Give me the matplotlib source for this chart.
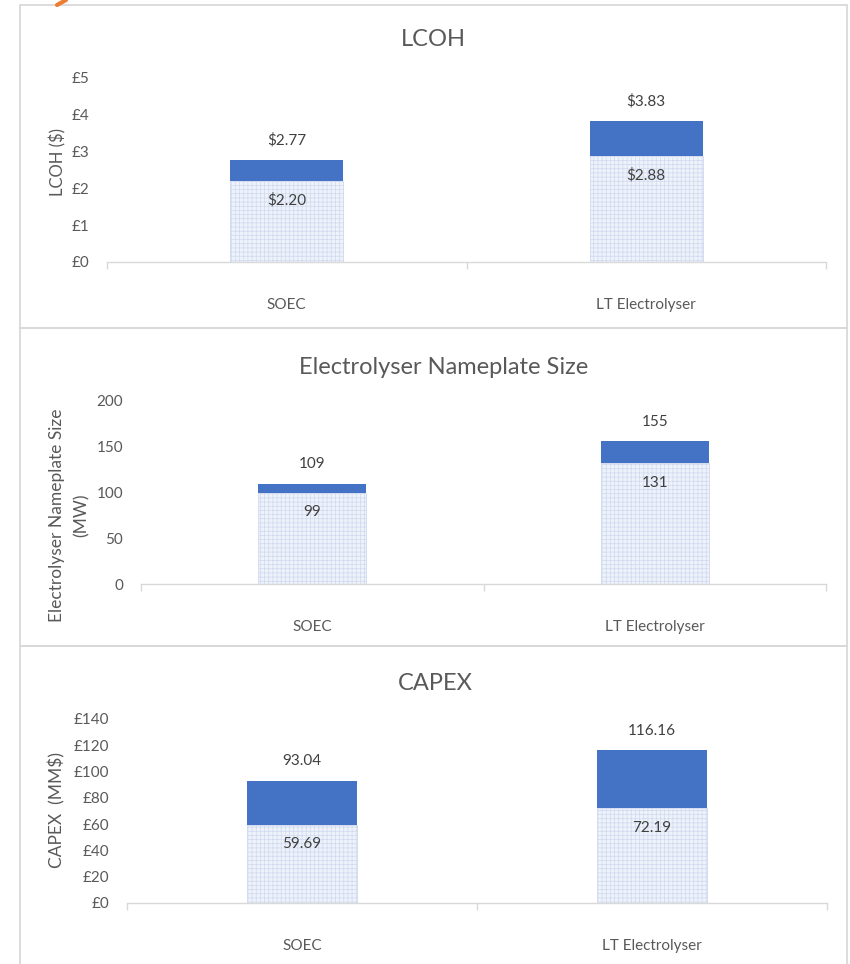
import matplotlib
matplotlib.use("Agg")
import matplotlib.pyplot as plt
from matplotlib.patches import Rectangle
from matplotlib.lines import Line2D

plt.rcParams["font.family"] = ["Lato", "DejaVu Sans"]
plt.rcParams["hatch.linewidth"] = 0.5

W, H = 850, 964

categories = ["SOEC", "LT Electrolyser"]

lcoh_base = [2.20, 2.88]
lcoh_total = [2.77, 3.83]

size_base = [99, 131]
size_total = [109, 155]

capex_base = [59.69, 72.19]
capex_total = [93.04, 116.16]

BLUE = "#4472C4"
PALE = "#EEF2FA"
HATCH = "#CFD9EF"
GRID = "#D9D9D9"
TEXT = "#595959"

fig = plt.figure(figsize=(W / 100, H / 100), dpi=100)


def frac(x0, y0, x1, y1):
    # pixel box (top-left origin) -> figure fraction rect
    return [x0 / W, 1 - y1 / H, (x1 - x0) / W, (y1 - y0) / H]


def ftext(x, y, s, **kw):
    fig.text(x / W, 1 - y / H, s, **kw)


# panel frames
for top, bottom in [(5, 328), (328, 646), (646, 1000)]:
    fig.patches.append(Rectangle((20 / W, 1 - bottom / H), 827 / W, (bottom - top) / H,
                                 transform=fig.transFigure, fill=False,
                                 edgecolor=GRID, linewidth=1.3))
fig.lines.append(Line2D([57 / W, 66 / W], [1 - 5 / H, 1 - 0 / H], transform=fig.transFigure,
                        color="#ED7D31", linewidth=3, solid_capstyle="round"))


def panel(rect, base, total, ymax, step, fmt_tick, fmt_val, title, title_xy):
    ax = fig.add_axes(frac(*rect))
    x = range(len(categories))
    ax.bar(x, base, width=0.315, color=PALE, edgecolor=HATCH, hatch="++++", linewidth=0.6)
    top = [t - b for t, b in zip(total, base)]
    ax.bar(x, top, bottom=base, width=0.315, color=BLUE, linewidth=0)
    for i in x:
        ax.annotate(fmt_val(total[i]), (i, total[i]), xytext=(0, 14), textcoords="offset points",
                    ha="center", va="center", fontsize=11, color="#404040")
        ax.annotate(fmt_val(base[i]), (i, base[i]), xytext=(0, -14), textcoords="offset points",
                    ha="center", va="center", fontsize=11, color="#404040")
    ax.set_xlim(-0.5, 1.5)
    ax.set_ylim(0, ymax)
    yt = [k * step for k in range(int(round(ymax / step)) + 1)]
    ax.set_yticks(yt)
    ax.set_yticklabels([fmt_tick(v) for v in yt])
    ax.set_xticks(list(x))
    ax.set_xticklabels(categories)
    ax.set_xticks([-0.5, 0.5, 1.5], minor=True)
    ax.tick_params(axis="x", which="major", length=0, pad=26, labelsize=11, labelcolor=TEXT)
    ax.tick_params(axis="x", which="minor", length=5, width=1, color=GRID)
    ax.tick_params(axis="y", length=0, pad=13, labelsize=11, labelcolor=TEXT)
    for side in ["top", "right", "left"]:
        ax.spines[side].set_visible(False)
    ax.spines["bottom"].set_color(GRID)
    ax.spines["bottom"].set_linewidth(1)
    ftext(*title_xy, title, ha="center", va="center", fontsize=17, color=TEXT)
    return ax


panel((107, 78, 826, 262), lcoh_base, lcoh_total, 5, 1,
      lambda v: f"£{v:g}", lambda v: f"${v:.2f}", "LCOH", (433, 40))
ftext(58, 162, "LCOH ($)", rotation=90, ha="center", va="center", fontsize=12, color=TEXT)

panel((141, 400, 826, 584), size_base, size_total, 200, 50,
      lambda v: f"{v:g}", lambda v: f"{v:g}", "Electrolyser Nameplate Size", (444, 367))
ftext(57, 515, "Electrolyser Nameplate Size", rotation=90, ha="center", va="center",
      fontsize=12.5, color=TEXT)
ftext(82, 515, "(MW)", rotation=90, ha="center", va="center", fontsize=12.5, color=TEXT)

panel((127, 719, 827, 903), capex_base, capex_total, 140, 20,
      lambda v: f"£{v:g}", lambda v: f"{v:.2f}", "CAPEX", (435, 683))
ftext(57, 810, "CAPEX  (MM$)", rotation=90, ha="center", va="center", fontsize=12.5, color=TEXT)

fig.savefig("out.png", dpi=100, facecolor="white")
